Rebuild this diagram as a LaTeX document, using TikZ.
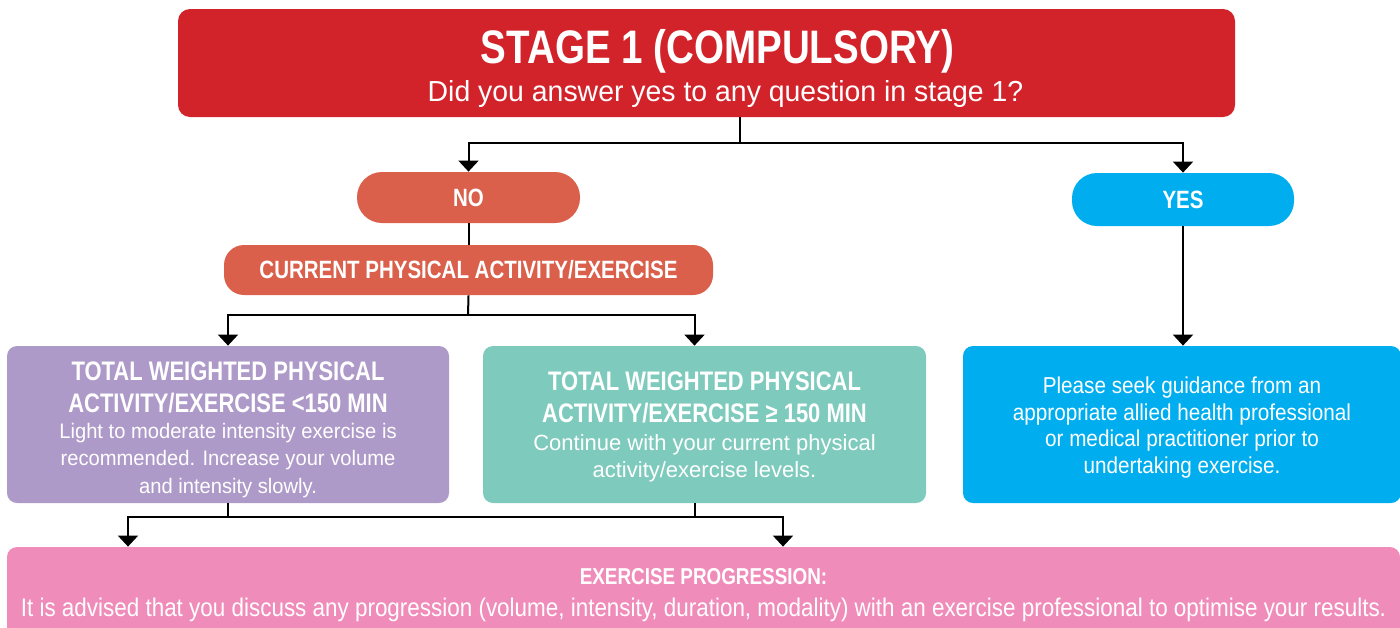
\documentclass[tikz,border=0pt]{standalone}
\usepackage{fontspec}
\setmainfont{Liberation Sans}[FakeStretch=0.96,BoldFeatures={FakeStretch=0.82}]
\newfontfamily\askfont{Liberation Sans}[FakeStretch=0.98]
\newfontfamily\seekfont{Liberation Sans}[FakeStretch=0.90]
\newfontfamily\plainfont{Liberation Sans}
\newfontfamily\progfont{Liberation Sans}[FakeStretch=0.88]
\usetikzlibrary{arrows.meta}
\definecolor{stagered}{HTML}{D2232A}
\definecolor{nored}{HTML}{DA604B}
\definecolor{yesblue}{HTML}{00AEEF}
\definecolor{lowpurple}{HTML}{AE9AC9}
\definecolor{highteal}{HTML}{7ECBBE}
\definecolor{progpink}{HTML}{F08CBA}
\newcommand\boxhead{\fontsize{13.4}{16}\selectfont\bfseries}
\newcommand\boxbody{\fontsize{10.5}{13.75}\selectfont}
\begin{document}
\begin{tikzpicture}[x=0.5pt,y=-0.5pt,
  box/.style={rounded corners=5pt, text=white, align=center, inner sep=0pt},
  pill/.style={box, rounded corners=12.5pt, font=\fontsize{12.5}{15}\selectfont\bfseries},
  link/.style={line width=1pt},
  arr/.style={line width=1pt, -{Triangle[width=10pt,length=5.5pt]}},
  arrs/.style={line width=1pt, {Triangle[width=10pt,length=5.5pt]}-{Triangle[width=10pt,length=5.5pt]}}]
\clip (0,0) rectangle (1400,627);
%\draw[help lines] (0,0) grid[step=50] (1400,627);
\node[box, fill=stagered, rounded corners=6pt, minimum width=528.5pt, minimum height=54pt] (stage) at (706.5,63)
  {\rule{0pt}{22.5pt}\hspace*{11pt}\fontsize{23.5}{18}\selectfont\bfseries STAGE 1 (COMPULSORY)\\[3pt]
   \hspace*{19pt}\askfont\fontsize{14.5}{18}\selectfont Did you answer yes to any question in stage 1?};
\node[pill, fill=nored, minimum width=111.5pt, minimum height=25.5pt] (no) at (468.5,197.5) {NO};
\node[pill, fill=yesblue, minimum width=111pt, minimum height=26.5pt] (yes) at (1183,199.5) {YES};
\node[pill, fill=nored, rounded corners=10pt, minimum width=244.5pt, minimum height=25pt] (now) at (468.5,270)
  {CURRENT PHYSICAL ACTIVITY/EXERCISE};
\node[box, fill=lowpurple, minimum width=221pt, minimum height=78.5pt] (low) at (228,424.5)
  {\rule{0pt}{14.6pt}\boxhead TOTAL WEIGHTED PHYSICAL\\[4pt] \boxhead ACTIVITY/EXERCISE <150 MIN\\[0.75pt]
   \boxbody Light to moderate intensity exercise is\\[1.75pt] \boxbody recommended. Increase your volume\\[1.75pt]
   \boxbody and intensity slowly.};
\node[box, fill=highteal, minimum width=221.5pt, minimum height=78.5pt] (high) at (704.5,424.5)
  {\rule{0pt}{11.6pt}\boxhead TOTAL WEIGHTED PHYSICAL\\[4pt] \boxhead ACTIVITY/EXERCISE ≥ 150 MIN\\[2pt]
   \plainfont\fontsize{11}{13}\selectfont Continue with your current physical\\[1.35pt]
   \plainfont\fontsize{11}{13}\selectfont activity/exercise levels.};
\node[box, fill=yesblue, minimum width=219pt, minimum height=78.5pt] (seek) at (1182,424.5)
  {\rule{0pt}{11.4pt}\seekfont\fontsize{11.5}{13.3}\selectfont Please seek guidance from an\\[1.3pt]
   \seekfont\fontsize{11.5}{13.3}\selectfont appropriate allied health professional\\[1.3pt]
   \seekfont\fontsize{11.5}{13.3}\selectfont or medical practitioner prior to\\[1.3pt]
   \seekfont\fontsize{11.5}{13.3}\selectfont undertaking exercise.};
\node[box, fill=progpink, minimum width=696.5pt, minimum height=45pt] (prog) at (703.5,592)
  {\rule{0pt}{11.3pt}\fontsize{11.5}{16}\selectfont\bfseries EXERCISE PROGRESSION:\\[4pt]
   \progfont\fontsize{12.75}{16}\selectfont It is advised that you discuss any progression (volume, intensity, duration, modality) with an exercise professional to optimise your results.};
%
\coordinate (s1) at (740,143);
\coordinate (s2) at (468,315);
\coordinate (s3) at (128,517);
\coordinate (s4) at (783,517);
\draw[link] (stage.south -| s1) -- (s1);
\draw[arr] (s1) -| (no.north);
\draw[arr] (s1) -| (yes.north);
\draw[link] (no.south) -- (now.north);
\draw[link] (now.south) -- (s2);
\draw[arr] (s2) -| (low.north);
\draw[arr] (s2) -| ([xshift=-5pt]high.north);
\draw[arr] (yes.south) -- (yes.south |- seek.north);
\draw[link] (low.south) -- (low.south |- s3);
\draw[link] ([xshift=-5pt]high.south) -- ([xshift=-5pt]high.south |- s3);
\draw[arrs] (s3 |- prog.north) -- (s3) -- (s4) -- (s4 |- prog.north);
\end{tikzpicture}
\end{document}
